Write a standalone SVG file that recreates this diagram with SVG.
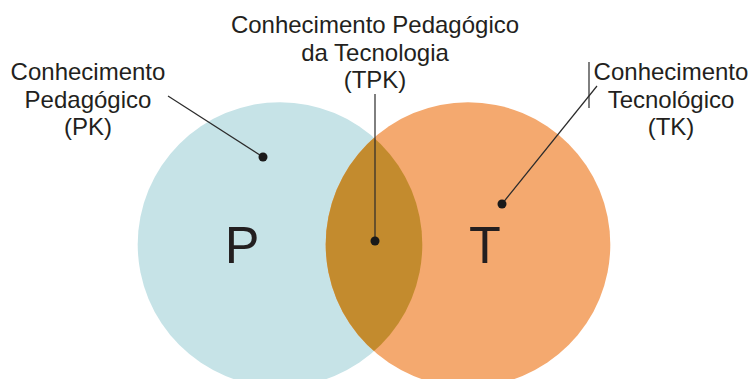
<svg xmlns="http://www.w3.org/2000/svg" width="754" height="379" viewBox="0 0 754 379">
<style>
.lbl{font-family:"Liberation Sans",Arial,sans-serif;font-size:24px;fill:#231f20;text-anchor:middle}
.big{font-family:"Liberation Sans",Arial,sans-serif;font-size:52px;fill:#231f20;text-anchor:middle}
.ln{stroke:#2b2b2b;stroke-width:1.2;fill:none}
.dot{fill:#1a1a1a}
</style>
<defs>
<clipPath id="clipP"><circle cx="280" cy="244.5" r="142.3"/></clipPath>
</defs>
<rect width="754" height="379" fill="#ffffff"/>
<g id="P">
<circle cx="280" cy="244.5" r="142.3" fill="#c6e3e7"/>
<text class="big" x="242" y="263">P</text>
</g>
<g id="T">
<circle cx="468" cy="244.5" r="142.3" fill="#f4a96f"/>
<text class="big" x="485" y="263">T</text>
</g>
<g id="TPK-lens">
<circle cx="468" cy="244.5" r="142.3" fill="#c38b2e" clip-path="url(#clipP)"/>
</g>
<g id="connectors">
<line class="ln" x1="168" y1="96" x2="263" y2="157"/>
<line class="ln" x1="375" y1="94" x2="375" y2="241"/>
<line class="ln" x1="502" y1="204" x2="597" y2="86"/>
<line class="ln" x1="589" y1="62" x2="589" y2="108"/>
<circle class="dot" cx="263" cy="157" r="4.5"/>
<circle class="dot" cx="375" cy="241" r="4.5"/>
<circle class="dot" cx="502" cy="204" r="4.5"/>
</g>
<g id="PK">
<text class="lbl" x="88" y="80">Conhecimento</text>
<text class="lbl" x="88" y="108">Pedagógico</text>
<text class="lbl" x="88" y="135">(PK)</text>
</g>
<g id="TPK">
<text class="lbl" x="375" y="33">Conhecimento Pedagógico</text>
<text class="lbl" x="375" y="61">da Tecnologia</text>
<text class="lbl" x="375" y="88">(TPK)</text>
</g>
<g id="TK">
<text class="lbl" x="671" y="80">Conhecimento</text>
<text class="lbl" x="671" y="108">Tecnológico</text>
<text class="lbl" x="671" y="135">(TK)</text>
</g>
</svg>
